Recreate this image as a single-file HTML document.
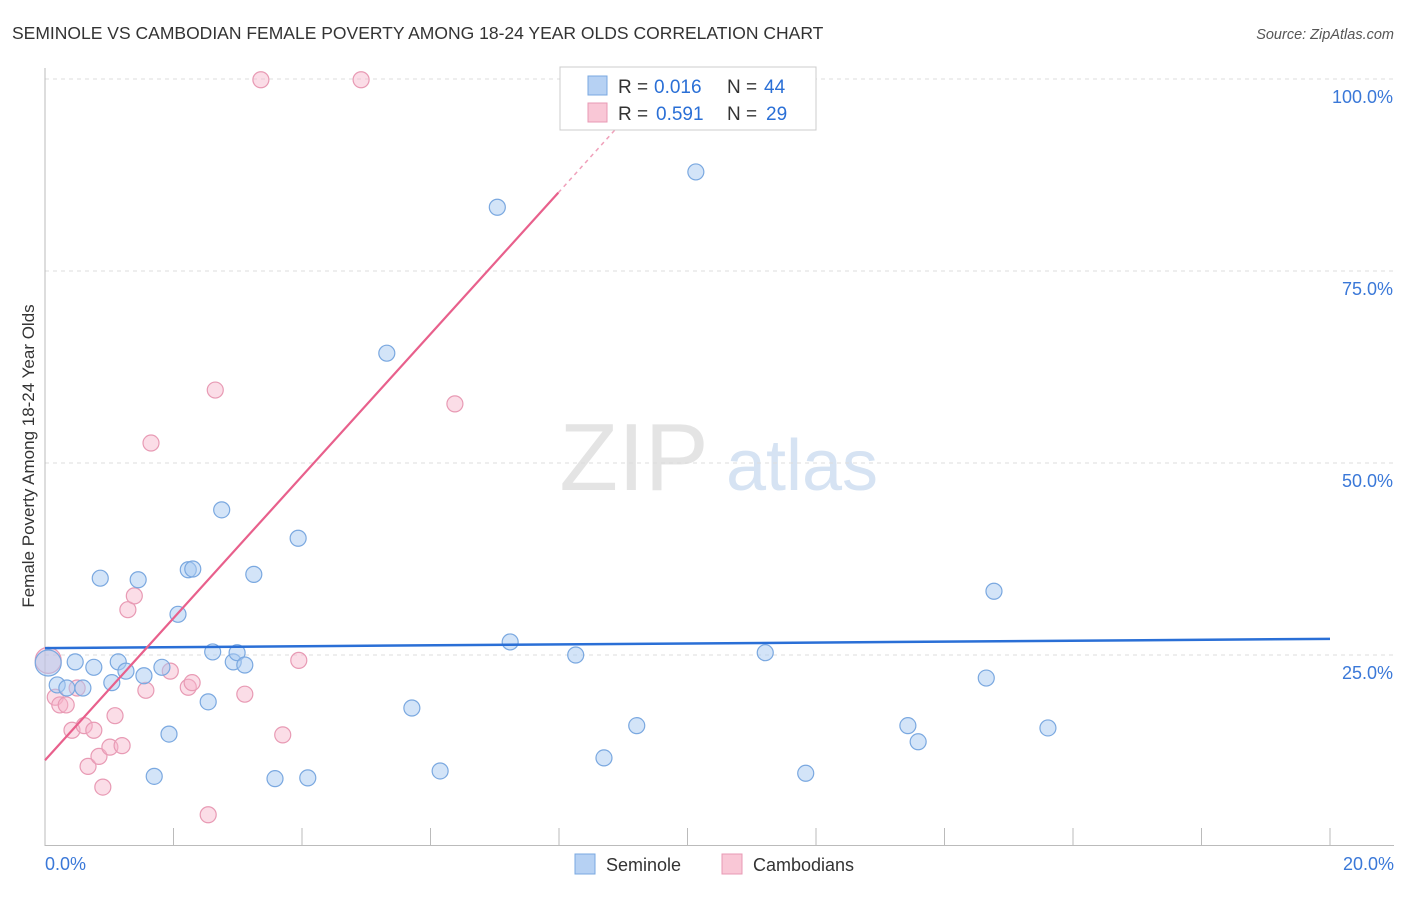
<!DOCTYPE html>
<html><head><meta charset="utf-8"><style>
body{margin:0;background:#fff;font-family:"Liberation Sans",sans-serif;}
svg text{font-family:"Liberation Sans",sans-serif;}
</style></head><body>
<svg id="chart" width="1406" height="892" xmlns="http://www.w3.org/2000/svg">
<text x="12" y="39" font-size="17.5" fill="#333">SEMINOLE VS CAMBODIAN FEMALE POVERTY AMONG 18-24 YEAR OLDS CORRELATION CHART</text>
<text x="1394" y="39" font-size="14.5" fill="#555" text-anchor="end" font-style="italic">Source: ZipAtlas.com</text>
<g>
<text x="634" y="490" font-size="96" fill="#e4e4e4" text-anchor="middle" font-family="Liberation Serif, serif">ZIP</text>
<text x="802" y="490" font-size="72" fill="#d6e3f3" text-anchor="middle">atlas</text>
</g>
<g id="grid"></g>
<g id="axes"></g>
<g id="marks"></g>
<text transform="translate(34,456) rotate(-90)" font-size="17" fill="#333" text-anchor="middle">Female Poverty Among 18-24 Year Olds</text>
<g>
<rect x="560" y="67" width="256" height="63" fill="#fff" stroke="#ccc"/>
<rect x="588" y="76" width="19" height="19" fill="#b6d1f3" stroke="#7aa8e0"/>
<text x="618" y="93" font-size="19" fill="#333">R =</text>
<text x="654" y="93" font-size="19" fill="#2a6fd6">0.016</text>
<text x="727" y="93" font-size="19" fill="#333">N =</text>
<text x="764" y="93" font-size="19" fill="#2a6fd6">44</text>
<rect x="588" y="103" width="19" height="19" fill="#f9c7d6" stroke="#e89ab4"/>
<text x="618" y="120" font-size="19" fill="#333">R =</text>
<text x="656" y="120" font-size="19" fill="#2a6fd6">0.591</text>
<text x="727" y="120" font-size="19" fill="#333">N =</text>
<text x="766" y="120" font-size="19" fill="#2a6fd6">29</text>
</g>
<g>
<rect x="575" y="854" width="20" height="20" fill="#b6d1f3" stroke="#7aa8e0"/>
<text x="606" y="871" font-size="18" fill="#333">Seminole</text>
<rect x="722" y="854" width="20" height="20" fill="#f9c7d6" stroke="#e89ab4"/>
<text x="753" y="871" font-size="18" fill="#333">Cambodians</text>
</g>
</svg>
<script>
const xTicks=[0,2,4,6,8,10,12,14,16,18,20];
const yTicks=[25,50,75,100];
const yTickLabels=["25.0%","50.0%","75.0%","100.0%"];
const seminoleX=[0.05,0.19,0.47,0.34,0.59,0.76,0.86,1.04,1.14,1.26,1.45,1.54,1.70,1.82,1.93,2.07,2.23,2.30,2.54,2.61,2.75,2.93,2.99,3.11,3.25,3.58,3.94,4.09,5.32,5.71,6.15,7.04,7.24,8.26,8.70,9.21,10.13,11.21,11.84,13.43,13.59,14.65,14.77,15.61];
const seminoleY=[23.96,21.1,24.1,20.7,20.7,23.4,35.0,21.4,24.1,22.9,34.8,22.3,9.2,23.4,14.7,30.3,36.1,36.2,18.9,25.4,43.9,24.1,25.3,23.7,35.5,8.9,40.2,9.0,64.3,18.1,9.9,83.3,26.7,25.0,11.6,15.8,87.9,25.3,9.6,15.8,13.7,22.0,33.3,15.5];
const cambX=[0.05,0.16,0.23,0.33,0.42,0.50,0.61,0.67,0.76,0.84,0.90,1.01,1.09,1.20,1.29,1.39,1.57,1.65,1.95,2.23,2.29,2.54,2.65,3.11,3.36,3.70,3.95,4.92,6.38];
const cambY=[24.3,19.5,18.5,18.5,15.2,20.7,15.8,10.5,15.2,11.8,7.8,13.0,17.1,13.2,30.9,32.7,20.4,52.6,22.9,20.8,21.4,4.2,59.5,19.9,99.9,14.6,24.3,99.9,57.7];
const seminoleTrend=[25.9,27.1];
const cambTrend=[11.3,85.2,95.5];
const cambTrendX=[0,7.99,9.1];
const NS="http://www.w3.org/2000/svg";
const X=v=>45+v*64.25, Y=v=>847-v*7.68;
function mk(t,a,p){const e=document.createElementNS(NS,t);for(const k in a)e.setAttribute(k,a[k]);p.appendChild(e);return e;}
const gridG=document.getElementById('grid'),axesG=document.getElementById('axes'),marksG=document.getElementById('marks');
yTicks.forEach((v,i)=>{
 const l=mk('line',{x1:45,x2:1394,y1:Y(v),y2:Y(v),stroke:'#ddd','stroke-dasharray':'4,4'},gridG);
 
 
 const t=mk('text',{x:1393,y:Y(v)+24,'font-size':18,fill:'#3a78d8','text-anchor':'end'},axesG);
 t.textContent=yTickLabels[i];
 
 
});
const topGrid=mk('line',{x1:45,x2:1394,y1:79,y2:79,stroke:'#ddd','stroke-dasharray':'4,4'},gridG);


const ya=mk('line',{x1:45,x2:45,y1:68,y2:846,stroke:'#bbb'},axesG);


const xa=mk('line',{x1:45,x2:1394,y1:845.5,y2:845.5,stroke:'#bbb'},axesG);


xTicks.forEach(v=>{
 const l=mk('line',{x1:X(v),x2:X(v),y1:828,y2:846,stroke:'#bbb'},axesG);
 
 
});
[[0,'0.0%','start',45],[20,'20.0%','end',1394]].forEach(d=>{
 const t=mk('text',{x:d[3],y:870,'font-size':18,fill:'#3a78d8','text-anchor':d[2]},axesG);
 t.textContent=d[1];
 
 
});
function dots(xs,ys,fill,stroke,name){
 xs.forEach((x,i)=>{
  const big=i===0;
  const c=mk('circle',{cx:X(x),cy:Y(ys[i]),r:big?13:8,fill:fill,stroke:stroke,'stroke-width':1.2},marksG);
  
  
 });
}
dots(cambX,cambY,'rgba(246,180,202,0.45)','#e89ab4','cambodian-point');
dots(seminoleX,seminoleY,'rgba(168,202,242,0.5)','#7aa8e0','seminole-point');
const bl=mk('line',{x1:X(0),y1:Y(seminoleTrend[0]),x2:X(20),y2:Y(seminoleTrend[1]),stroke:'#2a6fd6','stroke-width':2.5},marksG);


const pl=mk('line',{x1:X(cambTrendX[0]),y1:Y(cambTrend[0]),x2:X(cambTrendX[1]),y2:Y(cambTrend[1]),stroke:'#e8608c','stroke-width':2.2},marksG);


const pd=mk('line',{x1:X(cambTrendX[1]),y1:Y(cambTrend[1]),x2:X(cambTrendX[2]),y2:Y(cambTrend[2]),stroke:'#f0a0ba','stroke-width':1.5,'stroke-dasharray':'4,4'},marksG);


</script>
</body></html>
